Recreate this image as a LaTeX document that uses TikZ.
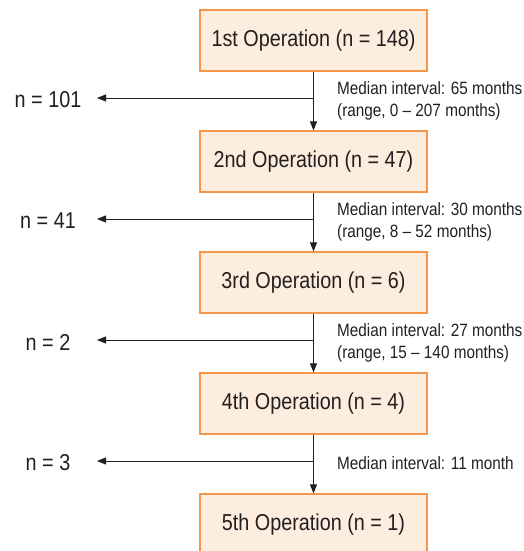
\documentclass[tikz,border=0pt]{standalone}
\usepackage{fontspec}
\setmainfont[FakeStretch=0.86]{Liberation Sans}
\usetikzlibrary{arrows.meta}
\definecolor{boxfill}{RGB}{253,237,222}
\definecolor{boxline}{RGB}{245,150,75}
\definecolor{ink}{RGB}{35,31,32}
\begin{document}
\begin{tikzpicture}[x=1pt,y=-1pt,
  opbox/.style={draw=boxline,line width=1.2pt,fill=boxfill,minimum width=227pt,minimum height=61pt,inner sep=0pt,font=\fontsize{23}{27}\selectfont,text=ink},
  side/.style={font=\fontsize{23}{27}\selectfont,text=ink,inner sep=0pt},
  note/.style={font=\fontsize{17.8}{22}\selectfont,text=ink,align=left,anchor=west,inner sep=0pt},
  conn/.style={draw=ink,line width=0.9pt,-{Triangle[length=9pt,width=7pt]}}]
\useasboundingbox (0,0) rectangle (523,551);
\node[opbox] (o1) at (313.5,40.5) {1st Operation (n = 148)};
\node[opbox] (o2) at (313.5,161.5) {2nd Operation (n = 47)};
\node[opbox] (o3) at (313.5,282.5) {3rd Operation (n = 6)};
\node[opbox] (o4) at (313.5,403.5) {4th Operation (n = 4)};
\node[opbox] (o5) at (313.5,524.5) {5th Operation (n = 1)};
\coordinate (j1) at (313.5,98);
\coordinate (j2) at (313.5,219);
\coordinate (j3) at (313.5,340);
\coordinate (j4) at (313.5,461);
\node[side] (s1) at (48,100) {n = 101};
\node[side] (s2) at (48,221) {n = 41};
\node[side] (s3) at (48,342) {n = 2};
\node[side] (s4) at (48,463) {n = 3};
\draw[conn] (o1.south) -- (o2.north);
\draw[conn] (o2.south) -- (o3.north);
\draw[conn] (o3.south) -- (o4.north);
\draw[conn] (o4.south) -- (o5.north);
\draw[conn] (j1) -- (97,98);
\draw[conn] (j2) -- (97,219);
\draw[conn] (j3) -- (97,340);
\draw[conn] (j4) -- (97,461);
\node[note] (m1) at (337,101) {Median interval: 65 months\\(range, 0 -- 207 months)};
\node[note] (m2) at (337,222) {Median interval: 30 months\\(range, 8 -- 52 months)};
\node[note] (m3) at (337,343) {Median interval: 27 months\\(range, 15 -- 140 months)};
\node[note] (m4) at (337,463) {Median interval: 11 month};
\end{tikzpicture}
\end{document}
